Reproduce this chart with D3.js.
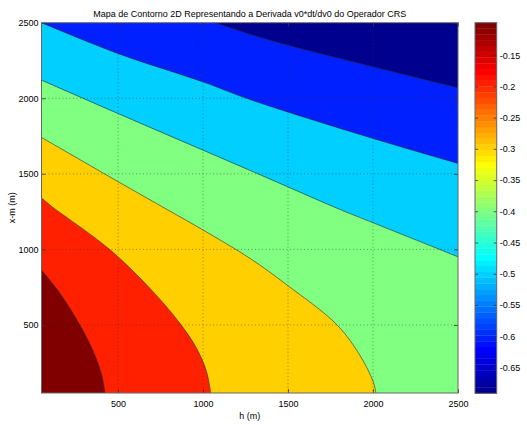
<!DOCTYPE html>
<html>
<head>
  <meta charset="utf-8" />
  <script src="https://d3js.org/d3.v7.min.js"></script>
  <style>
    body { margin: 0; background: #fff; }
    text { font-family: "Liberation Sans", Arial, sans-serif; font-size: 9px; fill: #000; }
  </style>
</head>
<body>
  <svg id="chart" width="527" height="425"></svg>
  <script>
    // values
    const hTicks = [500, 1000, 1500, 2000, 2500];
    const xTicks = [500, 1000, 1500, 2000, 2500];
    const cbTicks = [-0.65, -0.6, -0.55, -0.5, -0.45, -0.4, -0.35, -0.3, -0.25, -0.2, -0.15];
    const cRange = [-0.6915, -0.098];
    const levels = [-0.6, -0.5, -0.4, -0.3, -0.2, -0.1];

    // contour lines, [h, x-m] pairs, one per level
    const line_m06 = [[1074, 2500], [1276, 2424], [1495, 2352], [2001, 2208], [2500, 2069]];
    const line_m05 = [[50, 2500], [498, 2297], [998, 2109], [1276, 1992], [2001, 1734], [2500, 1569]];
    const line_m04 = [[50, 2120], [498, 1900], [1276, 1523], [1815, 1260], [2001, 1176], [2500, 951]];
    const line_m03 = [[50, 1741], [498, 1450], [795, 1260], [998, 1130], [1276, 941], [1495, 764], [1789, 500], [1922, 301], [2001, 125], [2017, 50]];
    const line_m02 = [[50, 1342], [100, 1293], [443, 1007], [688, 742], [864, 511], [962, 346], [1021, 191], [1045, 50]];
    const line_m01 = [[50, 863], [159, 709], [276, 500], [355, 323], [404, 169], [423, 50]];
    const contourLines = [line_m06, line_m05, line_m04, line_m03, line_m02, line_m01];

    const svg = d3.select("#chart");
    const pLeft = 41.5, pRight = 458, pTop = 22.7, pBottom = 393;
    const fontFam = "'Liberation Sans', Arial, sans-serif";

    const xScale = d3.scaleLinear().domain([50, 2500]).range([pLeft, pRight]);
    const yScale = d3.scaleLinear().domain([50, 2500]).range([pBottom, pTop]);

    // MATLAB jet(64), built the way matlab does it
    const jetMap = (function () {
      const n = 64, m = 16;
      const u = [];
      for (let k = 1; k <= m; k++) u.push(k / m);
      for (let k = 1; k < m; k++) u.push(1);
      for (let k = m; k >= 1; k--) u.push(k / m);
      const J = d3.range(n).map(() => [0, 0, 0]);
      u.forEach((val, k) => {
        const g = 8 + k + 1, r = g + m, b = g - m;
        if (r <= n) J[r - 1][0] = val;
        J[g - 1][1] = val;
        if (b >= 1) J[b - 1][2] = val;
      });
      return J.map(c => d3.rgb(c[0] * 255, c[1] * 255, c[2] * 255).toString());
    })();

    function colorOf(v) {
      let idx = Math.floor((v - cRange[0]) / (cRange[1] - cRange[0]) * 64);
      idx = Math.max(0, Math.min(63, idx));
      return jetMap[idx];
    }

    svg.append("defs").append("clipPath").attr("id", "plotclip")
      .append("rect").attr("x", pLeft).attr("y", pTop)
      .attr("width", pRight - pLeft).attr("height", pBottom - pTop);

    const plot = svg.append("g").attr("clip-path", "url(#plotclip)");

    // lowest band
    plot.append("rect")
      .attr("x", pLeft).attr("y", pTop)
      .attr("width", pRight - pLeft).attr("height", pBottom - pTop)
      .attr("fill", colorOf(cRange[0]));

    const curveGen = d3.line()
      .x(d => xScale(d[0]))
      .y(d => yScale(d[1]))
      .curve(d3.curveCatmullRom.alpha(0.5));

    contourLines.forEach((pts, i) => {
      const first = pts[0], last = pts[pts.length - 1];
      let d = curveGen(pts);
      if (last[0] >= 2500) d += "L" + xScale(2500) + "," + yScale(50);
      d += "L" + xScale(50) + "," + yScale(50);
      if (first[1] >= 2500) d += "L" + xScale(50) + "," + yScale(2500);
      d += "Z";
      plot.append("path").attr("d", d).attr("fill", colorOf(levels[i]));
    });

    contourLines.forEach(pts => {
      plot.append("path").attr("d", curveGen(pts))
        .attr("fill", "none").attr("stroke", "#2a2a2a").attr("stroke-width", 0.6);
    });

    // dotted grid
    const grid = svg.append("g").attr("stroke", "#333").attr("stroke-width", 0.6)
      .attr("stroke-dasharray", "1,2.5").attr("opacity", 0.8);
    hTicks.filter(t => t < 2500).forEach(t => {
      grid.append("line").attr("x1", xScale(t)).attr("x2", xScale(t)).attr("y1", pTop).attr("y2", pBottom);
    });
    xTicks.filter(t => t < 2500).forEach(t => {
      grid.append("line").attr("y1", yScale(t)).attr("y2", yScale(t)).attr("x1", pLeft).attr("x2", pRight);
    });

    // axes (inner ticks on all four sides)
    const tl = 4;
    svg.append("g").attr("transform", `translate(0,${pBottom})`)
      .call(d3.axisBottom(xScale).tickValues(hTicks).tickSize(-tl).tickPadding(8).tickFormat(d => d))
      .call(g => g.select(".domain").remove());
    svg.append("g").attr("transform", `translate(0,${pTop})`)
      .call(d3.axisTop(xScale).tickValues(hTicks).tickSize(-tl).tickFormat(""))
      .call(g => g.select(".domain").remove());
    svg.append("g").attr("transform", `translate(${pLeft},0)`)
      .call(d3.axisLeft(yScale).tickValues(xTicks).tickSize(-tl).tickPadding(3).tickFormat(d => d))
      .call(g => g.select(".domain").remove());
    svg.append("g").attr("transform", `translate(${pRight},0)`)
      .call(d3.axisRight(yScale).tickValues(xTicks).tickSize(-tl).tickFormat(""))
      .call(g => g.select(".domain").remove());
    svg.selectAll(".tick line").attr("stroke", "#333").attr("stroke-width", 0.8);
    svg.selectAll(".tick text").style("font-size", "9px").style("font-family", fontFam);

    svg.append("rect").attr("x", pLeft).attr("y", pTop)
      .attr("width", pRight - pLeft).attr("height", pBottom - pTop)
      .attr("fill", "none").attr("stroke", "#666").attr("stroke-width", 1);

    // colorbar
    const cbL = 475, cbR = 496.7, cbT = 22.7, cbB = 393.3;
    const cScale = d3.scaleLinear().domain(cRange).range([cbB, cbT]);
    const cb = svg.append("g");
    jetMap.forEach((col, i) => {
      const v0 = cRange[0] + (cRange[1] - cRange[0]) * i / 64;
      const v1 = cRange[0] + (cRange[1] - cRange[0]) * (i + 1) / 64;
      cb.append("rect").attr("x", cbL).attr("width", cbR - cbL)
        .attr("y", cScale(v1)).attr("height", cScale(v0) - cScale(v1) + 0.3)
        .attr("fill", col);
    });
    svg.append("g").attr("transform", `translate(${cbR},0)`)
      .call(d3.axisRight(cScale).tickValues(cbTicks).tickSize(-3).tickPadding(3)
        .tickFormat(d => String(+d.toFixed(2))))
      .call(g => g.select(".domain").remove())
      .call(g => g.selectAll("line").attr("stroke", "#333").attr("stroke-width", 0.8))
      .call(g => g.selectAll("text").style("font-size", "9px").style("font-family", fontFam));
    svg.append("g").attr("transform", `translate(${cbL},0)`)
      .call(d3.axisLeft(cScale).tickValues(cbTicks).tickSize(-3).tickFormat(""))
      .call(g => g.select(".domain").remove())
      .call(g => g.selectAll("line").attr("stroke", "#333").attr("stroke-width", 0.8));
    svg.append("rect").attr("x", cbL).attr("y", cbT)
      .attr("width", cbR - cbL).attr("height", cbB - cbT)
      .attr("fill", "none").attr("stroke", "#666").attr("stroke-width", 1);

    // labels
    svg.append("text").attr("x", (pLeft + pRight) / 2).attr("y", 17)
      .attr("text-anchor", "middle")
      .text("Mapa de Contorno 2D Representando a Derivada v0*dt/dv0 do Operador CRS");
    svg.append("text").attr("x", (pLeft + pRight) / 2).attr("y", 419)
      .attr("text-anchor", "middle").text("h (m)");
    svg.append("text").attr("transform", `translate(14.5,${(pTop + pBottom) / 2}) rotate(-90)`)
      .attr("text-anchor", "middle").text("x-m (m)");
  </script>
</body>
</html>
